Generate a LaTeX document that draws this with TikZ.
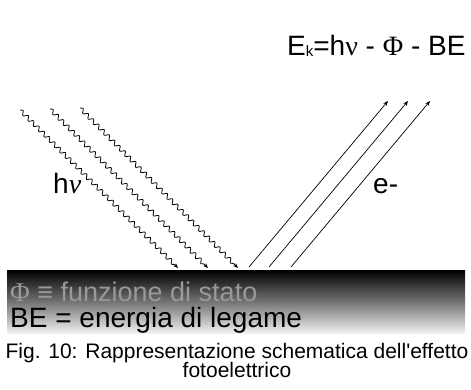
\documentclass[tikz,border=0pt]{standalone}
\usepackage{fontspec}
\setmainfont{Liberation Sans}[Ligatures=TeXOff]
\newfontfamily\grk{Liberation Serif}
\usetikzlibrary{arrows.meta,decorations.pathmorphing}

\tikzset{
  photon/.style={line width=0.8pt,decorate,decoration={snake,amplitude=2pt,segment length=7.5pt,post length=5pt},-{Stealth[length=5pt,width=4pt]}},
  electron/.style={line width=0.7pt,-{Stealth[length=5pt,width=4pt]}},
  lbl/.style={inner sep=0pt,anchor=base west,font=\fontsize{28}{32}\selectfont},
}

\begin{document}
\begin{tikzpicture}[x=1pt,y=-1pt]
\useasboundingbox (0,0) rectangle (471,389);

% metal surface
\shade[top color=black,bottom color=black!6,middle color=black!55] (7,270) rectangle (465,333);

% incoming photons
\coordinate (ph1s) at (20,110);  \coordinate (ph1e) at (178,268);
\coordinate (ph2s) at (50,109);  \coordinate (ph2e) at (208,268);
\coordinate (ph3s) at (80,108);  \coordinate (ph3e) at (238,268);
\draw[photon] (ph1s) -- (ph1e);
\draw[photon] (ph2s) -- (ph2e);
\draw[photon] (ph3s) -- (ph3e);

% outgoing electrons
\coordinate (el1s) at (249,267); \coordinate (el1e) at (388,101);
\coordinate (el2s) at (269,267); \coordinate (el2e) at (408,101);
\coordinate (el3s) at (291,267); \coordinate (el3e) at (430,101);
\draw[electron] (el1s) -- (el1e);
\draw[electron] (el2s) -- (el2e);
\draw[electron] (el3s) -- (el3e);

\node[lbl] (hnu) at (53,193) {h{\grk\itshape ν}};
\node[lbl] (elec) at (373,193) {e-};
\node[lbl] (eqn) at (287,55) {E\raisebox{-1pt}{\fontsize{15}{16}\selectfont k}=h{\grk ν} - {\grk Φ} - BE};

\node[lbl,font=\fontsize{27}{30}\selectfont,text=black!40] (phi) at (10,301) {{\grk Φ} ≡ funzione di stato};
\node[lbl] (be) at (10,327) {BE = energia di legame};

\node[inner sep=0pt,anchor=base,font=\fontsize{21}{24}\selectfont] (cap1) at (237,358) {Fig. 10: Rappresentazione schematica dell'effetto};
\node[inner sep=0pt,anchor=base,font=\fontsize{21}{24}\selectfont] (cap2) at (237,377) {fotoelettrico};
\end{tikzpicture}
\end{document}
